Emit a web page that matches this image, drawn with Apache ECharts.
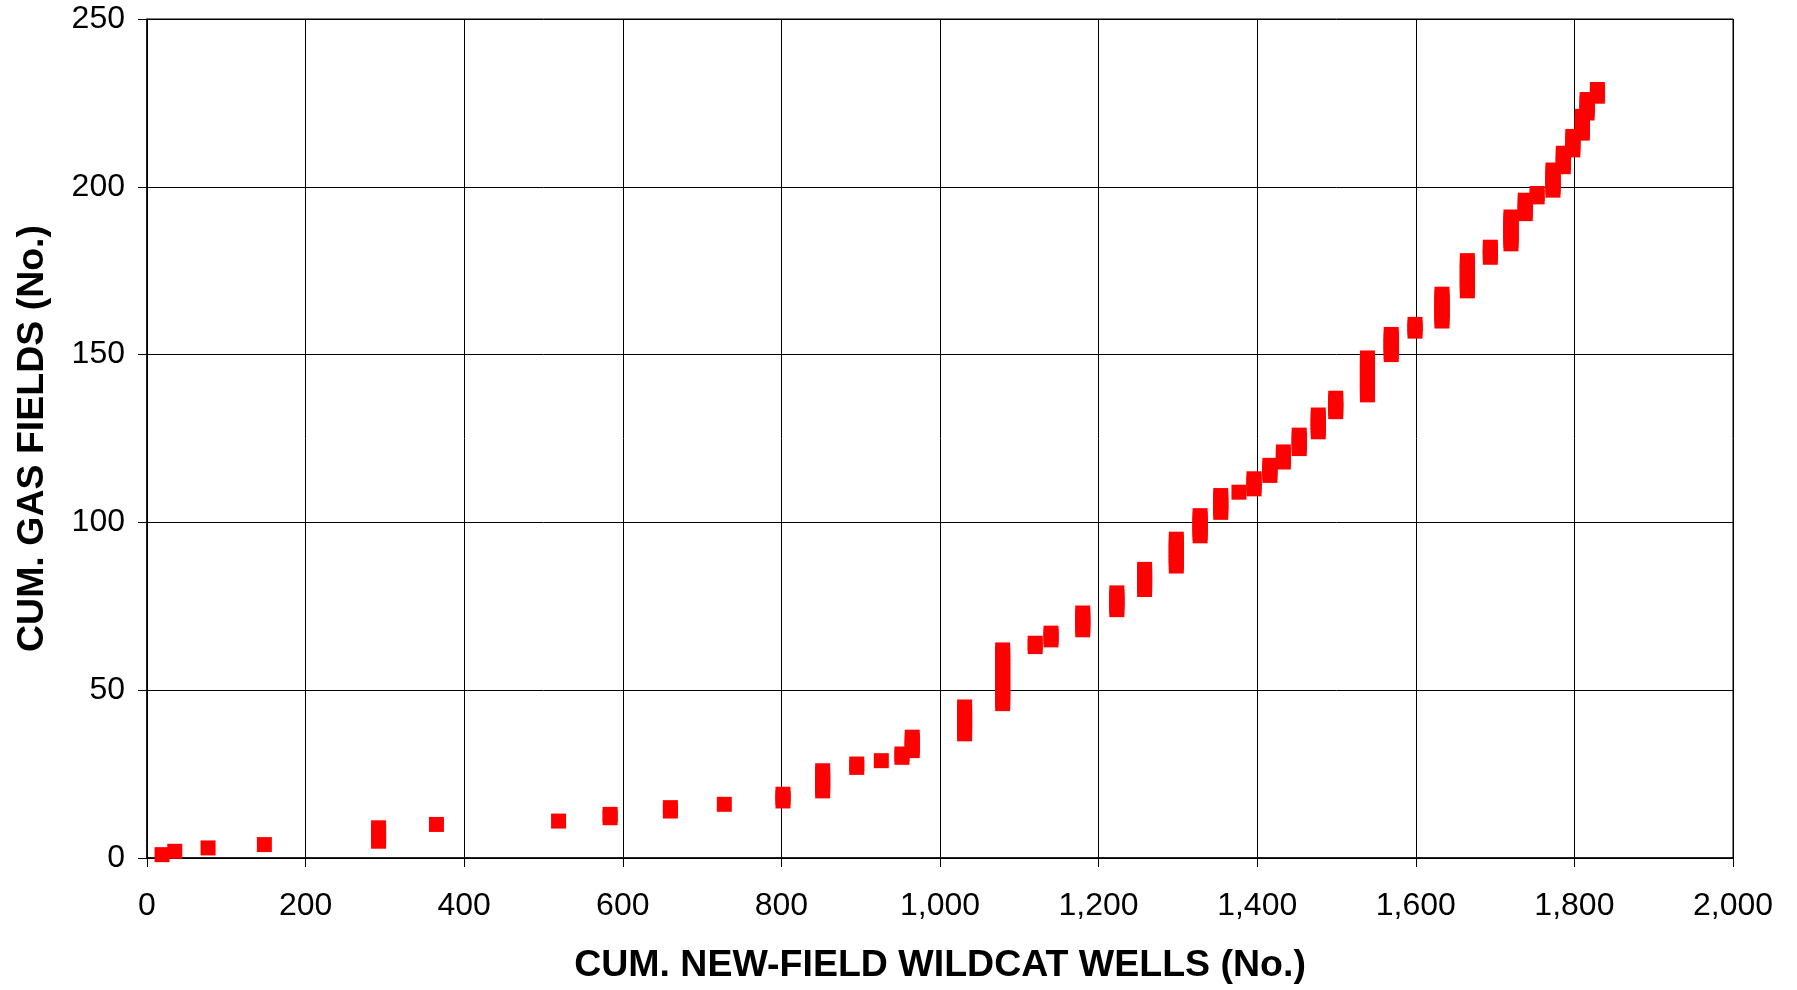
<!DOCTYPE html>
<html>
<head>
<meta charset="utf-8">
<script src="https://cdn.jsdelivr.net/npm/echarts@6/dist/echarts.min.js"></script>
<style>
html,body{margin:0;padding:0;background:#fff;}
#chart{width:1797px;height:990px;}
</style>
</head>
<body>
<div id="chart"></div>
<script>
// Cumulative new-field wildcat wells at each gas-field discovery
const wells = [
  19,
  35,
  77,
  148,
  292, 292, 292, 292, 292,
  365,
  519,
  584, 584,
  660, 660,
  728,
  802, 802, 802,
  852, 852, 852, 852, 852, 852, 852,
  895, 895,
  926,
  952, 952,
  965, 965, 965, 965, 965,
  1031, 1031, 1031, 1031, 1031, 1031, 1031, 1031, 1031,
  1079, 1079, 1079, 1079, 1079, 1079, 1079, 1079, 1079, 1079, 1079, 1079, 1079, 1079, 1079, 1079, 1079,
  1120, 1120,
  1140, 1140, 1140,
  1180, 1180, 1180, 1180, 1180, 1180,
  1223, 1223, 1223, 1223, 1223, 1223,
  1258, 1258, 1258, 1258, 1258, 1258, 1258,
  1298, 1298, 1298, 1298, 1298, 1298, 1298, 1298, 1298,
  1328, 1328, 1328, 1328, 1328, 1328, 1328,
  1354, 1354, 1354, 1354, 1354, 1354,
  1377,
  1396, 1396, 1396, 1396,
  1416, 1416, 1416, 1416,
  1433, 1433, 1433, 1433,
  1453, 1453, 1453, 1453, 1453,
  1477, 1477, 1477, 1477, 1477, 1477,
  1499, 1499, 1499, 1499, 1499,
  1539, 1539, 1539, 1539, 1539, 1539, 1539, 1539, 1539, 1539, 1539, 1539,
  1569, 1569, 1569, 1569, 1569, 1569, 1569,
  1599, 1599, 1599,
  1633, 1633, 1633, 1633, 1633, 1633, 1633, 1633, 1633,
  1665, 1665, 1665, 1665, 1665, 1665, 1665, 1665, 1665, 1665,
  1694, 1694, 1694, 1694,
  1720, 1720, 1720, 1720, 1720, 1720, 1720, 1720, 1720,
  1738, 1738, 1738, 1738, 1738,
  1753, 1753,
  1773, 1773, 1773, 1773, 1773, 1773, 1773,
  1786, 1786, 1786, 1786, 1786,
  1798, 1798, 1798, 1798, 1798,
  1810, 1810, 1810, 1810, 1810, 1810,
  1816, 1816, 1816, 1816, 1816,
  1829, 1829, 1829
];
// Cumulative gas fields (same order as wells)
const gasFields = [
  1,
  2,
  3,
  4,
  5, 6, 7, 8, 9,
  10,
  11,
  12, 13,
  14, 15,
  16,
  17, 18, 19,
  20, 21, 22, 23, 24, 25, 26,
  27, 28,
  29,
  30, 31,
  32, 33, 34, 35, 36,
  37, 38, 39, 40, 41, 42, 43, 44, 45,
  46, 47, 48, 49, 50, 51, 52, 53, 54, 55, 56, 57, 58, 59, 60, 61, 62,
  63, 64,
  65, 66, 67,
  68, 69, 70, 71, 72, 73,
  74, 75, 76, 77, 78, 79,
  80, 81, 82, 83, 84, 85, 86,
  87, 88, 89, 90, 91, 92, 93, 94, 95,
  96, 97, 98, 99, 100, 101, 102,
  103, 104, 105, 106, 107, 108,
  109,
  110, 111, 112, 113,
  114, 115, 116, 117,
  118, 119, 120, 121,
  122, 123, 124, 125, 126,
  127, 128, 129, 130, 131, 132,
  133, 134, 135, 136, 137,
  138, 139, 140, 141, 142, 143, 144, 145, 146, 147, 148, 149,
  150, 151, 152, 153, 154, 155, 156,
  157, 158, 159,
  160, 161, 162, 163, 164, 165, 166, 167, 168,
  169, 170, 171, 172, 173, 174, 175, 176, 177, 178,
  179, 180, 181, 182,
  183, 184, 185, 186, 187, 188, 189, 190, 191,
  192, 193, 194, 195, 196,
  197, 198,
  199, 200, 201, 202, 203, 204, 205,
  206, 207, 208, 209, 210,
  211, 212, 213, 214, 215,
  216, 217, 218, 219, 220, 221,
  222, 223, 224, 225, 226,
  227, 228, 229
];
const xTitle = 'CUM. NEW-FIELD WILDCAT WELLS (No.)';
const yTitle = 'CUM. GAS FIELDS (No.)';

const points = wells.map((w, i) => [w, gasFields[i]]);
const FONT = "'Liberation Sans', Arial, sans-serif";

const chart = echarts.init(document.getElementById('chart'), null, {renderer: 'canvas'});
chart.setOption({
  animation: false,
  backgroundColor: '#fff',
  grid: {left: 147, right: 64, top: 19, bottom: 129, show: true, borderColor: '#000', borderWidth: 1},
  xAxis: {
    type: 'value', min: 0, max: 2000, interval: 200,
    name: xTitle, nameLocation: 'middle', nameGap: 89,
    nameTextStyle: {fontFamily: FONT, fontWeight: 'bold', fontSize: 37.5, color: '#000'},
    axisLine: {show: true, onZero: false, lineStyle: {color: '#000', width: 1.5}},
    axisTick: {show: true, length: 9, lineStyle: {color: '#000', width: 1}},
    axisLabel: {fontFamily: FONT, fontSize: 32, color: '#000', margin: 32,
      formatter: v => v.toLocaleString('en-US')},
    splitLine: {show: true, lineStyle: {color: '#000', width: 1}}
  },
  yAxis: {
    type: 'value', min: 0, max: 250, interval: 50,
    name: yTitle, nameLocation: 'middle', nameGap: 95, nameRotate: 90,
    nameTextStyle: {fontFamily: FONT, fontWeight: 'bold', fontSize: 37.5, color: '#000'},
    axisLine: {show: true, onZero: false, lineStyle: {color: '#000', width: 1.5}},
    axisTick: {show: true, length: 9, lineStyle: {color: '#000', width: 1}},
    axisLabel: {fontFamily: FONT, fontSize: 32, color: '#000', margin: 22},
    splitLine: {show: true, lineStyle: {color: '#000', width: 1}}
  },
  series: [{
    type: 'scatter',
    data: points,
    symbol: 'rect',
    symbolSize: [15, 15],
    itemStyle: {color: '#FF0000', opacity: 1},
    emphasis: {disabled: true}
  }]
});
</script>
</body>
</html>
